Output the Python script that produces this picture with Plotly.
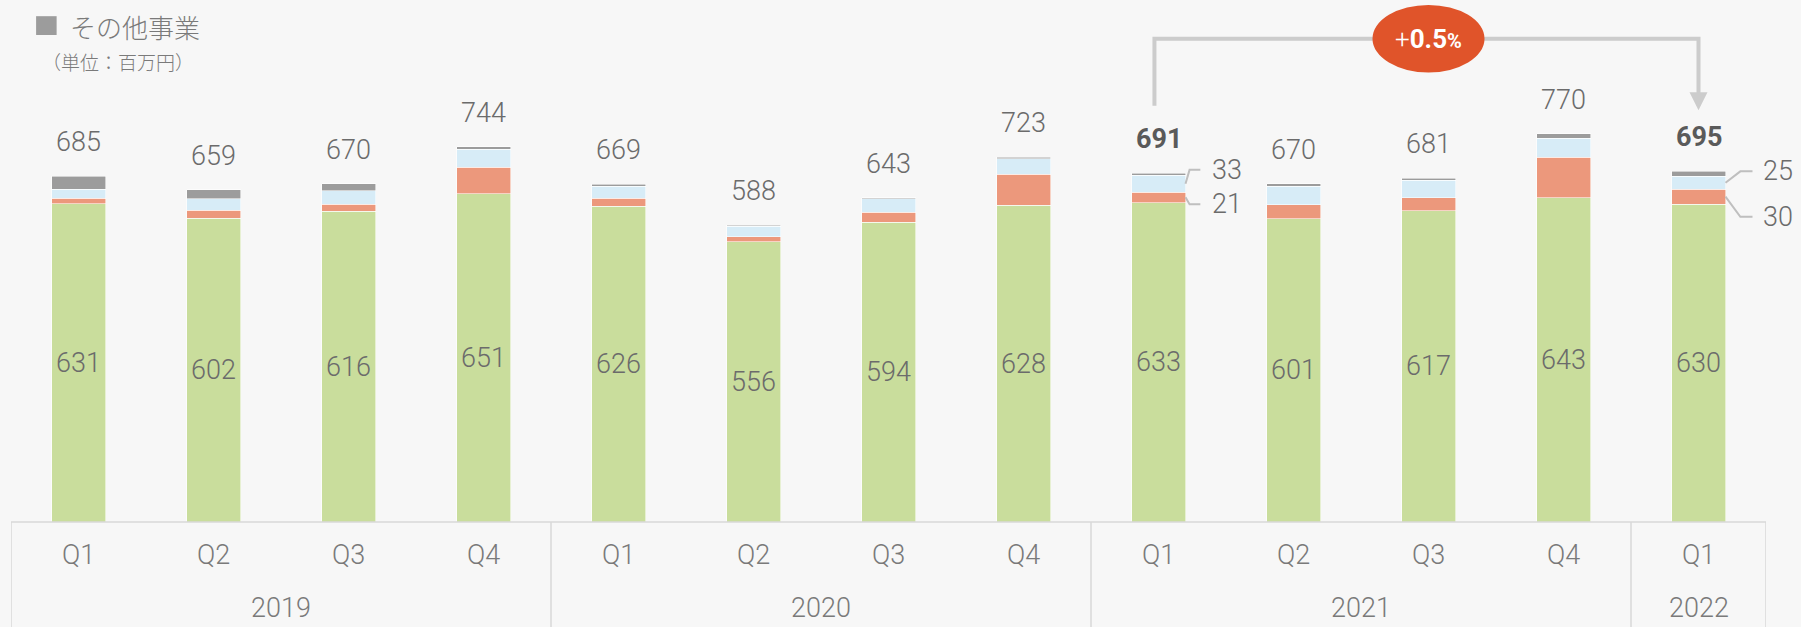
import plotly.graph_objects as go

# ---- data ----
quarters = ["Q1", "Q2", "Q3", "Q4", "Q1", "Q2", "Q3", "Q4", "Q1", "Q2", "Q3", "Q4", "Q1"]
years = ["2019", "2019", "2019", "2019", "2020", "2020", "2020", "2020",
         "2021", "2021", "2021", "2021", "2022"]
main_biz = [631, 602, 616, 651, 626, 556, 594, 628, 633, 601, 617, 643, 630]
biz_b = [11, 16, 14, 52, 16, 9, 20, 61, 21, 28, 26, 80, 30]
biz_c = [18, 23, 27, 36, 24, 21, 27, 31, 33, 37, 34, 38, 25]
other_biz = [25, 18, 13, 5, 3, 2, 2, 3, 4, 4, 4, 9, 10]
totals = [685, 659, 670, 744, 669, 588, 643, 723, 691, 670, 681, 770, 695]
bold_idx = [8, 12]
legend_label = "その他事業"
unit_label = "（単位：百万円）"

x = list(range(len(quarters)))

GREEN = "#c9dd9c"
SALMON = "#ec987c"
BLUE = "#d7ecf7"
GRAY = "#9c9c9c"
TXT = "#6b6b6b"
LINE = "#d9d9d9"
BG = "#f7f7f7"
NUM_FONT = "Roboto, sans-serif"
JP_FONT = "Noto Sans CJK JP, sans-serif"
LIGHT = 300

fig = go.Figure()
edge = dict(width=0.8, color="rgba(255,255,255,0.7)")
fig.add_trace(go.Bar(x=x, y=main_biz, marker=dict(color=GREEN, line=edge),
                     text=[str(v) for v in main_biz], textposition="inside",
                     insidetextanchor="middle",
                     textfont=dict(family=NUM_FONT, size=27, color=TXT, weight=LIGHT),
                     hoverinfo="skip", showlegend=False))
fig.add_trace(go.Bar(x=x, y=biz_b, marker=dict(color=SALMON, line=edge),
                     hoverinfo="skip", showlegend=False))
fig.add_trace(go.Bar(x=x, y=biz_c, marker=dict(color=BLUE, line=edge),
                     hoverinfo="skip", showlegend=False))
fig.add_trace(go.Bar(x=x, y=other_biz, marker=dict(color=GRAY, line=edge),
                     hoverinfo="skip", showlegend=False))

annotations = []
# totals above bars
for i, t in enumerate(totals):
    b = i in bold_idx
    annotations.append(dict(
        x=i, y=t, xref="x", yref="y", text=str(t),
        showarrow=False, yanchor="middle", yshift=34,
        font=dict(family=NUM_FONT, size=27, color="#5a5a5a" if b else TXT,
                  weight=700 if b else LIGHT)))

# quarter / year labels
for i, q in enumerate(quarters):
    annotations.append(dict(x=i, y=-0.063, xref="x", yref="paper", text=q,
                            showarrow=False, yanchor="middle",
                            font=dict(family=NUM_FONT, size=27, color="#7a7a7a", weight=LIGHT)))
groups = {}
for i, yv in enumerate(years):
    groups.setdefault(yv, []).append(i)
shapes = []
for yv, idxs in groups.items():
    annotations.append(dict(x=(idxs[0] + idxs[-1]) / 2, y=-0.165, xref="x", yref="paper",
                            text=yv, showarrow=False, yanchor="middle",
                            font=dict(family=NUM_FONT, size=27, color="#7a7a7a", weight=LIGHT)))
    shapes.append(dict(type="line", xref="x", yref="paper", x0=idxs[0] - 0.5, x1=idxs[0] - 0.5,
                       y0=0, y1=-0.25, line=dict(color=LINE, width=1.5)))
shapes.append(dict(type="line", xref="x", yref="paper", x0=len(x) - 0.5, x1=len(x) - 0.5,
                   y0=0, y1=-0.25, line=dict(color=LINE, width=1.5)))
shapes.append(dict(type="line", xref="x", yref="paper", x0=-0.5, x1=len(x) - 0.5,
                   y0=0, y1=0, line=dict(color=LINE, width=1.5)))

# callouts for highlighted bars
callouts = [
    (8, biz_c[8], main_biz[8] + biz_b[8] + biz_c[8] / 2, totals[8] + 7, 0.23, 0.31, 0.385),
    (8, biz_b[8], main_biz[8] + biz_b[8] / 2, main_biz[8] - 3, 0.23, 0.31, 0.385),
    (12, biz_c[12], main_biz[12] + biz_b[12] + biz_c[12] / 2, totals[12], 0.31, 0.40, 0.46),
    (12, biz_b[12], main_biz[12] + biz_b[12] / 2, main_biz[12] - 25, 0.31, 0.40, 0.46),
]
for i, v, mid, ly, dx1, dx2, dxl in callouts:
    shapes.append(dict(type="path", xref="x", yref="y",
                       path=f"M {i + 0.2} {mid} L {i + dx1} {ly} L {i + dx2} {ly}",
                       line=dict(color="#bfbfbf", width=2)))
    annotations.append(dict(x=i + dxl, y=ly, xref="x", yref="y", text=str(v),
                            showarrow=False, xanchor="left", yanchor="middle",
                            font=dict(family=NUM_FONT, size=27, color=TXT, weight=LIGHT)))

# growth bracket
i0, i1 = 8, 12
y_top = 958
shapes.append(dict(type="path", xref="x", yref="y",
                   path=f"M {i0 - 0.03} {totals[i0] + 134} L {i0 - 0.03} {y_top} L {i1} {y_top} L {i1} {totals[i1] + 140}",
                   line=dict(color="#cccccc", width=4)))
annotations.append(dict(x=i1, y=totals[i1] + 121, xref="x", yref="y",
                        ax=i1, ay=totals[i1] + 142, axref="x", ayref="y",
                        showarrow=True, arrowhead=2, arrowsize=0.9, arrowwidth=4,
                        arrowcolor="#cccccc", text=""))
cx = (i0 + i1) / 2
shapes.append(dict(type="circle", xref="x", yref="y", x0=cx - 0.415, x1=cx + 0.415,
                   y0=y_top - 67, y1=y_top + 67, fillcolor="#e0542a", line=dict(width=0)))
annotations.append(dict(x=cx, y=y_top, xref="x", yref="y",
                        text="<span style='font-weight:300'>+</span><b>0.5</b><b><span style='font-size:20px'>%</span></b>",
                        showarrow=False, font=dict(family=NUM_FONT, size=26, color="white")))

# legend / unit text
shapes.append(dict(type="rect", xref="paper", yref="paper", x0=0.0143, x1=0.026,
                   y0=0.933, y1=0.969, fillcolor=GRAY, line=dict(width=0)))
annotations.append(dict(x=0.0325, y=0.949, xref="paper", yref="paper", text=legend_label,
                        showarrow=False, xanchor="left", yanchor="middle",
                        font=dict(family=JP_FONT, size=26, color="#7a7a7a", weight=LIGHT)))
annotations.append(dict(x=0.0165, y=0.882, xref="paper", yref="paper", text=unit_label,
                        showarrow=False, xanchor="left", yanchor="middle",
                        font=dict(family=JP_FONT, size=19, color="#7a7a7a", weight=LIGHT)))

fig.update_layout(
    width=1801, height=627, barmode="stack", bargap=0.6,
    paper_bgcolor=BG, plot_bgcolor=BG,
    margin=dict(l=11, r=35, t=0, b=105),
    xaxis=dict(range=[-0.5, len(x) - 0.5], showticklabels=False, showgrid=False,
               zeroline=False, showline=False, fixedrange=True),
    yaxis=dict(range=[0, 522 / 0.5045], visible=False, fixedrange=True),
    shapes=shapes, annotations=annotations,
)
fig.update_traces(cliponaxis=False)
fig.write_html("out.html", config={"displayModeBar": False},
               post_script="document.body.style.margin='0';")
